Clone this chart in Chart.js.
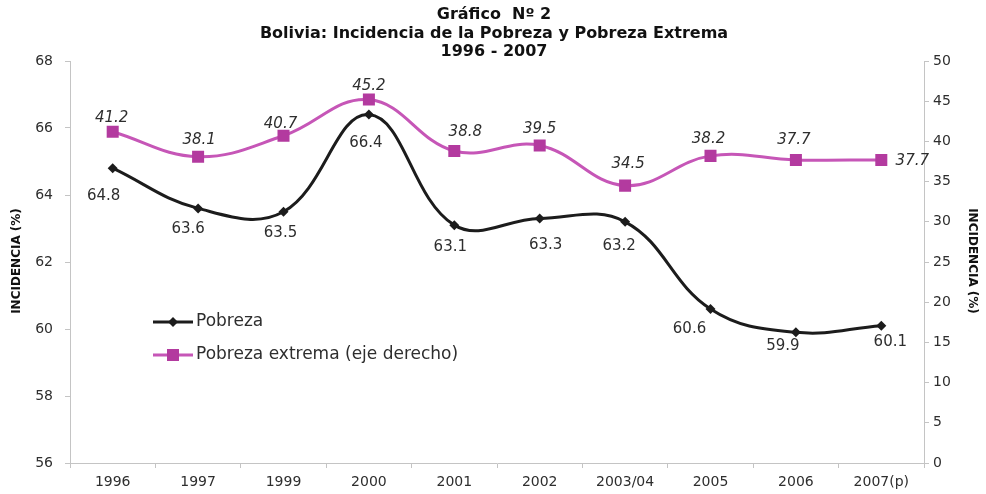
<!DOCTYPE html>
<html>
<head>
<meta charset="utf-8">
<script src="https://cdn.jsdelivr.net/npm/chart.js@4.4.1/dist/chart.umd.min.js"></script>
<style>
  html, body { margin: 0; padding: 0; background: #ffffff; }
  #wrap { width: 986px; height: 494px; position: relative; }
</style>
</head>
<body>
<div id="wrap"><canvas id="c" width="986" height="494"></canvas></div>
<script>
// ---- data ----
const categories = ['1996', '1997', '1999', '2000', '2001', '2002', '2003/04', '2005', '2006', '2007(p)'];
const pobreza = [64.8, 63.6, 63.5, 66.4, 63.1, 63.3, 63.2, 60.6, 59.9, 60.1];
const pobrezaExtrema = [41.2, 38.1, 40.7, 45.2, 38.8, 39.5, 34.5, 38.2, 37.7, 37.7];
const seriesNames = ['Pobreza', 'Pobreza extrema (eje derecho)'];
const leftAxisRange = [56, 68, 2];
const rightAxisRange = [0, 50, 5];
const titleLines = ['Gráfico  Nº 2', 'Bolivia: Incidencia de la Pobreza y Pobreza Extrema', '1996 - 2007'];
const axisTitle = 'INCIDENCIA (%)';

// ---- styles ----
const BLACK = '#1c1c1c';
const MAGENTA_LINE = '#c656b7';
const MAGENTA_MARK = '#b33a9f';
const TEXT = '#2e2e2e';
const AXIS = '#c4c4c4';
const FONT = '"DejaVu Sans", "Liberation Sans", Arial, sans-serif';

// per-point label offsets (dx, dy) relative to the point
const labelOffsets = {
  0: [[-9, 28], [-10, 21], [-3, 21], [-3, 29], [-4, 22], [6, 27], [-6, 24], [-21, 20], [-13, 14], [9, 16]],
  1: [[-1, -14], [1, -17], [-3, -12], [0, -13], [11, -19], [0, -16], [3, -22], [-2, -17], [-2, -20], [31, 1]]
};

const decorPlugin = {
  id: 'decor',
  afterDatasetsDraw(chart) {
    const ctx = chart.ctx;
    ctx.save();
    ctx.textAlign = 'center';
    ctx.textBaseline = 'middle';
    ctx.fillStyle = TEXT;
    chart.data.datasets.forEach((ds, di) => {
      const meta = chart.getDatasetMeta(di);
      ctx.font = (di === 1 ? 'oblique ' : '') + '15px ' + FONT;
      meta.data.forEach((pt, i) => {
        const off = labelOffsets[di][i];
        ctx.fillText(ds.data[i].toFixed(1), pt.x + off[0], pt.y + off[1]);
      });
    });
    ctx.restore();
  },
  afterDraw(chart) {
    const ctx = chart.ctx;
    ctx.save();
    // title
    ctx.fillStyle = '#111111';
    ctx.textAlign = 'center';
    ctx.textBaseline = 'middle';
    ctx.font = 'bold 16px ' + FONT;
    const ty = [15, 34, 52];
    titleLines.forEach((t, i) => ctx.fillText(t, 494, ty[i]));
    // axis titles
    const midY = 261;
    ctx.font = 'bold 12px ' + FONT;
    ctx.fillStyle = '#111111';
    ctx.save();
    ctx.translate(17, midY);
    ctx.rotate(-Math.PI / 2);
    ctx.fillText(axisTitle, 0, 0);
    ctx.restore();
    ctx.save();
    ctx.translate(972, midY);
    ctx.rotate(Math.PI / 2);
    ctx.fillText(axisTitle, 0, 0);
    ctx.restore();
    // legend
    const items = [
      { y: 322, color: BLACK, mark: BLACK, style: 'diamond' },
      { y: 355, color: MAGENTA_LINE, mark: MAGENTA_MARK, style: 'square' }
    ];
    items.forEach((it, i) => {
      ctx.strokeStyle = it.color;
      ctx.lineWidth = 3;
      ctx.beginPath();
      ctx.moveTo(153, it.y);
      ctx.lineTo(193, it.y);
      ctx.stroke();
      ctx.fillStyle = it.mark;
      ctx.beginPath();
      if (it.style === 'diamond') {
        ctx.moveTo(173, it.y - 5); ctx.lineTo(178, it.y); ctx.lineTo(173, it.y + 5); ctx.lineTo(168, it.y);
        ctx.closePath();
      } else {
        ctx.rect(167, it.y - 6, 12, 12);
      }
      ctx.fill();
      ctx.fillStyle = TEXT;
      ctx.textAlign = 'left';
      ctx.font = '17px ' + FONT;
      ctx.fillText(seriesNames[i], 196, it.y);
    });
    ctx.restore();
  }
};

new Chart(document.getElementById('c'), {
  type: 'line',
  data: {
    labels: categories,
    datasets: [
      {
        label: seriesNames[0],
        data: pobreza,
        yAxisID: 'y',
        borderColor: BLACK,
        backgroundColor: BLACK,
        borderWidth: 3,
        tension: 0.4,
        pointStyle: 'rectRot',
        pointRadius: 5,
        pointBackgroundColor: BLACK,
        pointBorderColor: BLACK,
        pointBorderWidth: 0
      },
      {
        label: seriesNames[1],
        data: pobrezaExtrema,
        yAxisID: 'y1',
        borderColor: MAGENTA_LINE,
        backgroundColor: MAGENTA_MARK,
        borderWidth: 3,
        tension: 0.4,
        pointStyle: 'rect',
        pointRadius: 8.5,
        pointBackgroundColor: MAGENTA_MARK,
        pointBorderColor: MAGENTA_MARK,
        pointBorderWidth: 0
      }
    ]
  },
  options: {
    responsive: false,
    animation: false,
    devicePixelRatio: 1,
    layout: { padding: { top: 61, left: 0, right: 0, bottom: 0 } },
    plugins: { legend: { display: false }, title: { display: false }, tooltip: { enabled: false } },
    scales: {
      x: {
        offset: true,
        grid: { display: true, drawOnChartArea: false, offset: true, tickLength: 5, color: AXIS },
        border: { display: true, color: AXIS, width: 1 },
        ticks: { color: TEXT, font: { family: FONT, size: 14 }, padding: 6, maxRotation: 0, autoSkip: false },
        afterFit(s) { s.height = 31; }
      },
      y: {
        position: 'left',
        min: leftAxisRange[0], max: leftAxisRange[1],
        ticks: { stepSize: leftAxisRange[2], color: TEXT, font: { family: FONT, size: 14 }, padding: 12 },
        grid: { drawOnChartArea: false, tickLength: 5, color: AXIS },
        border: { display: true, color: AXIS, width: 1 },
        afterFit(s) { s.width = 70; }
      },
      y1: {
        position: 'right',
        min: rightAxisRange[0], max: rightAxisRange[1],
        ticks: { stepSize: rightAxisRange[2], color: TEXT, font: { family: FONT, size: 14 }, padding: 4 },
        grid: { drawOnChartArea: false, tickLength: 5, color: AXIS },
        border: { display: true, color: AXIS, width: 1 },
        afterFit(s) { s.width = 62; }
      }
    }
  },
  plugins: [decorPlugin]
});
</script>
</body>
</html>
